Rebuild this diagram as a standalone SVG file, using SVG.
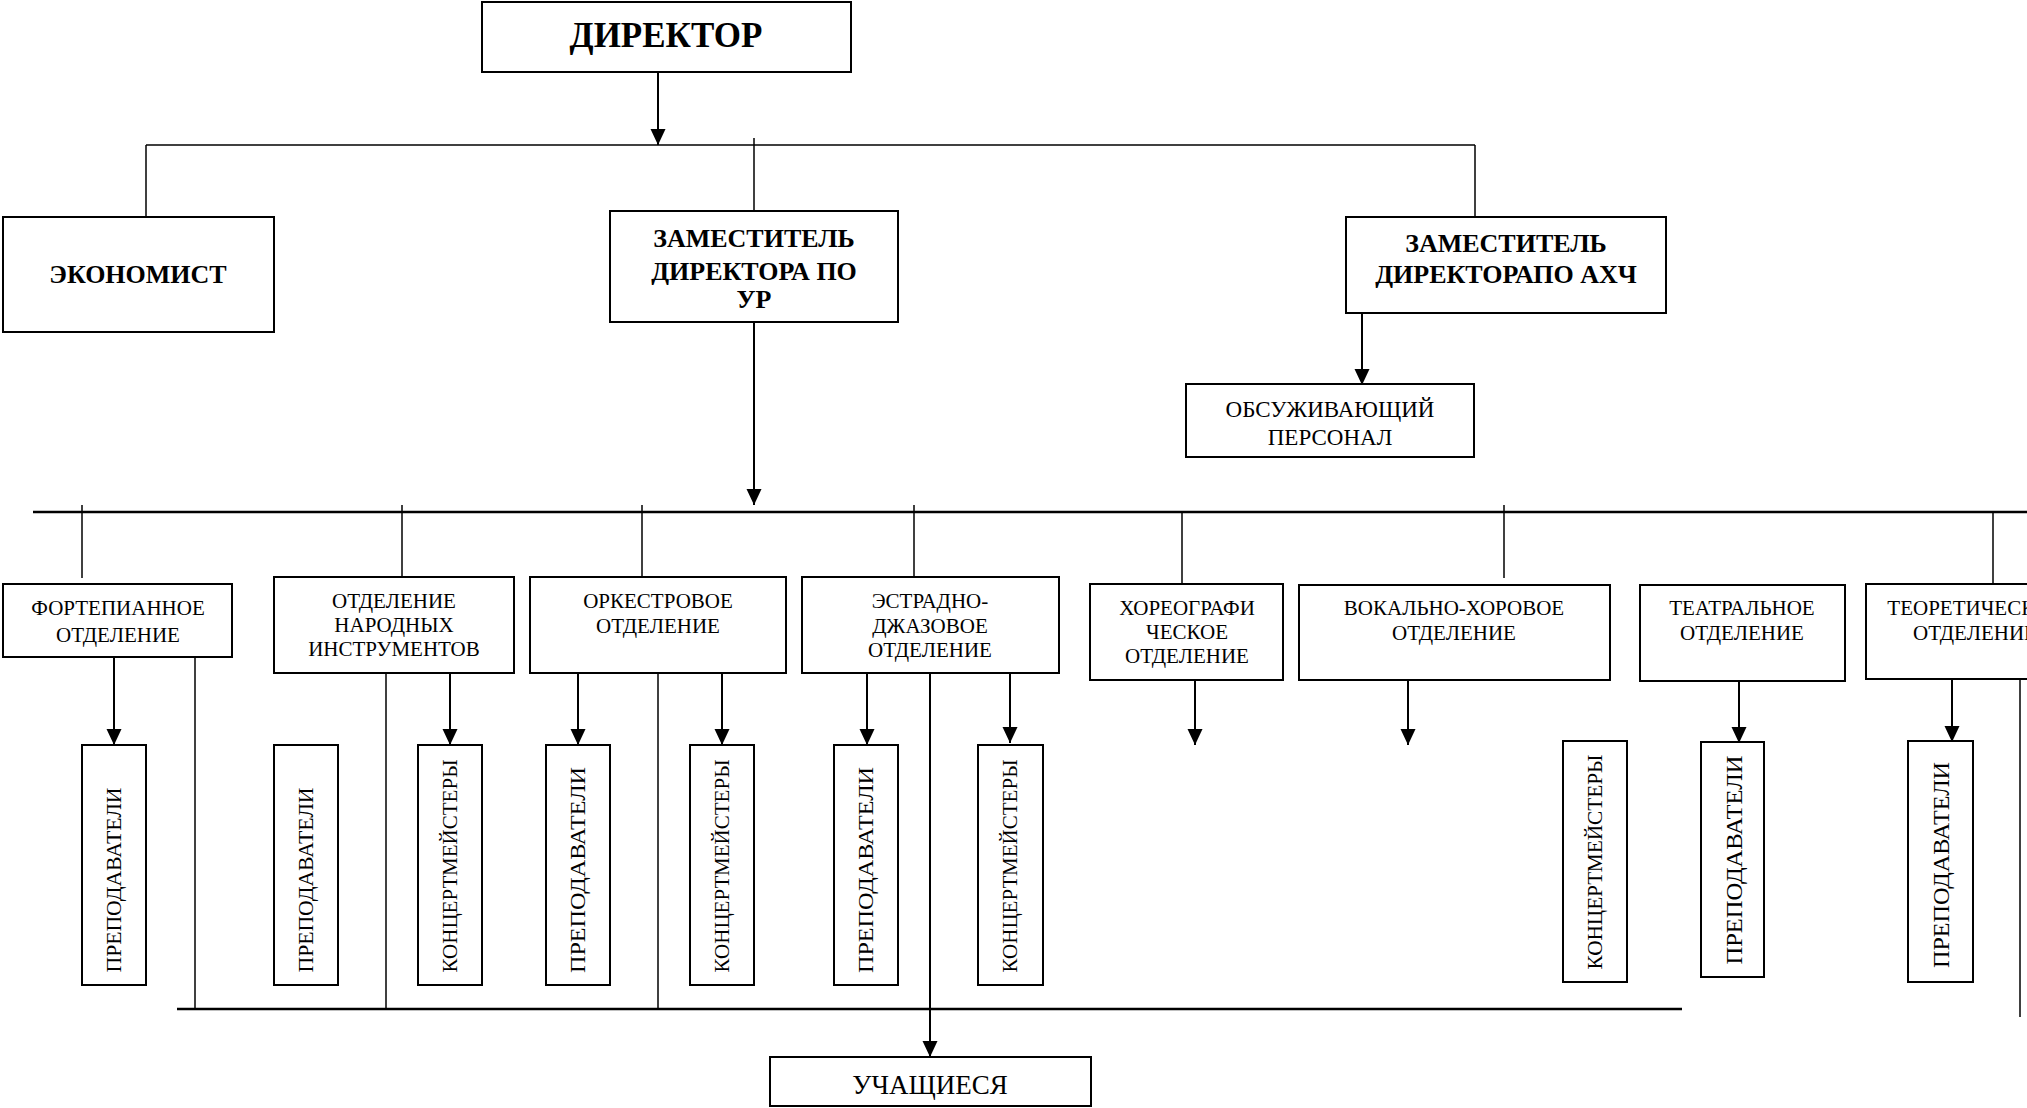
<svg xmlns="http://www.w3.org/2000/svg" width="2027" height="1108" viewBox="0 0 2027 1108">
<style>
.box{fill:#fff;stroke:#000;stroke-width:2}
.ln{stroke:#000;stroke-width:1.5;fill:none}
.bus{stroke:#000;stroke-width:2.5;fill:none}
.arr{stroke:#000;stroke-width:2;fill:none;marker-end:url(#ah)}
text{font-family:"Liberation Serif","Times New Roman",serif;fill:#000;text-anchor:middle}
.tb{font-weight:bold;font-size:26px}
.tn{font-size:21px}
.tv{font-size:21px}
</style>
<defs>
<marker id="ah" markerUnits="userSpaceOnUse" markerWidth="17" markerHeight="17" viewBox="0 0 17 17" refX="16" refY="8.5" orient="auto">
<path d="M0,1 L16,8.5 L0,16 z" fill="#000"/>
</marker>
</defs>
<rect width="2027" height="1108" fill="#fff"/>

<g id="connectors">
<line class="arr" x1="658" y1="72" x2="658" y2="145"/>
<line class="ln" x1="146" y1="145" x2="1475" y2="145"/>
<line class="ln" x1="146" y1="145" x2="146" y2="217"/>
<line class="ln" x1="754" y1="138" x2="754" y2="211"/>
<line class="ln" x1="1475" y1="145" x2="1475" y2="217"/>
<line class="arr" x1="1362" y1="313" x2="1362" y2="385"/>
<line class="arr" x1="754" y1="312" x2="754" y2="505"/>
<line class="bus" x1="33" y1="512" x2="2027" y2="512"/>
<line class="ln" x1="82" y1="505" x2="82" y2="578"/>
<line class="ln" x1="402" y1="505" x2="402" y2="577"/>
<line class="ln" x1="642" y1="505" x2="642" y2="577"/>
<line class="ln" x1="914" y1="505" x2="914" y2="577"/>
<line class="ln" x1="1182" y1="512" x2="1182" y2="584"/>
<line class="ln" x1="1504" y1="505" x2="1504" y2="578"/>
<line class="ln" x1="1993" y1="512" x2="1993" y2="584"/>
<line class="arr" x1="114" y1="657" x2="114" y2="745"/>
<line class="ln" x1="195" y1="657" x2="195" y2="1009"/>
<line class="ln" x1="386" y1="673" x2="386" y2="1009"/>
<line class="arr" x1="450" y1="673" x2="450" y2="745"/>
<line class="arr" x1="578" y1="673" x2="578" y2="745"/>
<line class="ln" x1="658" y1="673" x2="658" y2="1009"/>
<line class="arr" x1="722" y1="673" x2="722" y2="745"/>
<line class="arr" x1="867" y1="673" x2="867" y2="745"/>
<line class="arr" x1="930" y1="673" x2="930" y2="1057"/>
<line class="arr" x1="1010" y1="668" x2="1010" y2="743"/>
<line class="arr" x1="1195" y1="680" x2="1195" y2="745"/>
<line class="arr" x1="1408" y1="673" x2="1408" y2="745"/>
<line class="arr" x1="1739" y1="681" x2="1739" y2="743"/>
<line class="arr" x1="1952" y1="673" x2="1952" y2="742"/>
<line class="ln" x1="2020" y1="680" x2="2020" y2="1017"/>
<line class="bus" x1="177" y1="1009" x2="1682" y2="1009"/>
</g>

<g id="director"><rect class="box" x="482" y="2" width="369" height="70"/><text class="tb" style="font-size:35px" x="666" y="47">ДИРЕКТОР</text></g>
<g id="economist"><rect class="box" x="3" y="217" width="271" height="115"/><text class="tb" x="138" y="283">ЭКОНОМИСТ</text></g>
<g id="zam-ur"><rect class="box" x="610" y="211" width="288" height="111"/><text class="tb" x="754"><tspan x="754" y="247">ЗАМЕСТИТЕЛЬ</tspan><tspan x="754" y="280">ДИРЕКТОРА ПО</tspan><tspan x="754" y="308">УР</tspan></text></g>
<g id="zam-ahch"><rect class="box" x="1346" y="217" width="320" height="96"/><text class="tb" x="1506"><tspan x="1506" y="252">ЗАМЕСТИТЕЛЬ</tspan><tspan x="1506" y="283">ДИРЕКТОРАПО АХЧ</tspan></text></g>
<g id="personnel"><rect class="box" x="1186" y="384" width="288" height="73"/><text class="tn" style="font-size:23px" x="1330"><tspan x="1330" y="417">ОБСУЖИВАЮЩИЙ</tspan><tspan x="1330" y="445">ПЕРСОНАЛ</tspan></text></g>

<g id="fortepiano"><rect class="box" x="3" y="584" width="229" height="73"/><text class="tn" x="118"><tspan x="118" y="615">ФОРТЕПИАННОЕ</tspan><tspan x="118" y="642">ОТДЕЛЕНИЕ</tspan></text></g>
<g id="narodnye"><rect class="box" x="274" y="577" width="240" height="96"/><text class="tn" x="394"><tspan x="394" y="608">ОТДЕЛЕНИЕ</tspan><tspan x="394" y="632">НАРОДНЫХ</tspan><tspan x="394" y="656">ИНСТРУМЕНТОВ</tspan></text></g>
<g id="orkestr"><rect class="box" x="530" y="577" width="256" height="96"/><text class="tn" x="658"><tspan x="658" y="608">ОРКЕСТРОВОЕ</tspan><tspan x="658" y="633">ОТДЕЛЕНИЕ</tspan></text></g>
<g id="estrada"><rect class="box" x="802" y="577" width="257" height="96"/><text class="tn" x="930"><tspan x="930" y="608">ЭСТРАДНО-</tspan><tspan x="930" y="633">ДЖАЗОВОЕ</tspan><tspan x="930" y="657">ОТДЕЛЕНИЕ</tspan></text></g>
<g id="horeo"><rect class="box" x="1090" y="584" width="193" height="96"/><text class="tn" x="1187"><tspan x="1187" y="615">ХОРЕОГРАФИ</tspan><tspan x="1187" y="639">ЧЕСКОЕ</tspan><tspan x="1187" y="663">ОТДЕЛЕНИЕ</tspan></text></g>
<g id="vokal"><rect class="box" x="1299" y="585" width="311" height="95"/><text class="tn" x="1454"><tspan x="1454" y="615">ВОКАЛЬНО-ХОРОВОЕ</tspan><tspan x="1454" y="640">ОТДЕЛЕНИЕ</tspan></text></g>
<g id="teatr"><rect class="box" x="1640" y="585" width="205" height="96"/><text class="tn" x="1742"><tspan x="1742" y="615">ТЕАТРАЛЬНОЕ</tspan><tspan x="1742" y="640">ОТДЕЛЕНИЕ</tspan></text></g>
<g id="teor"><rect class="box" x="1866" y="584" width="218" height="95"/><text class="tn" x="1975"><tspan x="1975" y="615">ТЕОРЕТИЧЕСКОЕ</tspan><tspan x="1975" y="640">ОТДЕЛЕНИЕ</tspan></text></g>

<g id="v1"><rect class="box" x="82" y="745" width="64" height="240"/><text class="tv" transform="translate(114,880) rotate(-90)" x="0" y="7" textLength="185" lengthAdjust="spacingAndGlyphs">ПРЕПОДАВАТЕЛИ</text></g>
<g id="v2"><rect class="box" x="274" y="745" width="64" height="240"/><text class="tv" transform="translate(306,880) rotate(-90)" x="0" y="7" textLength="185" lengthAdjust="spacingAndGlyphs">ПРЕПОДАВАТЕЛИ</text></g>
<g id="v3"><rect class="box" x="418" y="745" width="64" height="240"/><text class="tv" transform="translate(450,866) rotate(-90)" x="0" y="7" textLength="213" lengthAdjust="spacingAndGlyphs">КОНЦЕРТМЕЙСТЕРЫ</text></g>
<g id="v4"><rect class="box" x="546" y="745" width="64" height="240"/><text class="tv" transform="translate(578,870) rotate(-90)" x="0" y="7" textLength="206" lengthAdjust="spacingAndGlyphs">ПРЕПОДАВАТЕЛИ</text></g>
<g id="v5"><rect class="box" x="690" y="745" width="64" height="240"/><text class="tv" transform="translate(722,866) rotate(-90)" x="0" y="7" textLength="213" lengthAdjust="spacingAndGlyphs">КОНЦЕРТМЕЙСТЕРЫ</text></g>
<g id="v6"><rect class="box" x="834" y="745" width="64" height="240"/><text class="tv" transform="translate(866,870) rotate(-90)" x="0" y="7" textLength="206" lengthAdjust="spacingAndGlyphs">ПРЕПОДАВАТЕЛИ</text></g>
<g id="v7"><rect class="box" x="978" y="745" width="65" height="240"/><text class="tv" transform="translate(1010,866) rotate(-90)" x="0" y="7" textLength="213" lengthAdjust="spacingAndGlyphs">КОНЦЕРТМЕЙСТЕРЫ</text></g>
<g id="v8"><rect class="box" x="1563" y="741" width="64" height="241"/><text class="tv" transform="translate(1595,862) rotate(-90)" x="0" y="7" textLength="215" lengthAdjust="spacingAndGlyphs">КОНЦЕРТМЕЙСТЕРЫ</text></g>
<g id="v9"><rect class="box" x="1701" y="742" width="63" height="235"/><text class="tv" style="font-size:23px" transform="translate(1734,860) rotate(-90)" x="0" y="8" textLength="209" lengthAdjust="spacingAndGlyphs">ПРЕПОДАВАТЕЛИ</text></g>
<g id="v10"><rect class="box" x="1908" y="741" width="65" height="241"/><text class="tv" style="font-size:23px" transform="translate(1941,865) rotate(-90)" x="0" y="8" textLength="206" lengthAdjust="spacingAndGlyphs">ПРЕПОДАВАТЕЛИ</text></g>

<g id="students"><rect class="box" x="770" y="1057" width="321" height="49"/><text class="tn" style="font-size:27px" x="930" y="1094">УЧАЩИЕСЯ</text></g>
</svg>
